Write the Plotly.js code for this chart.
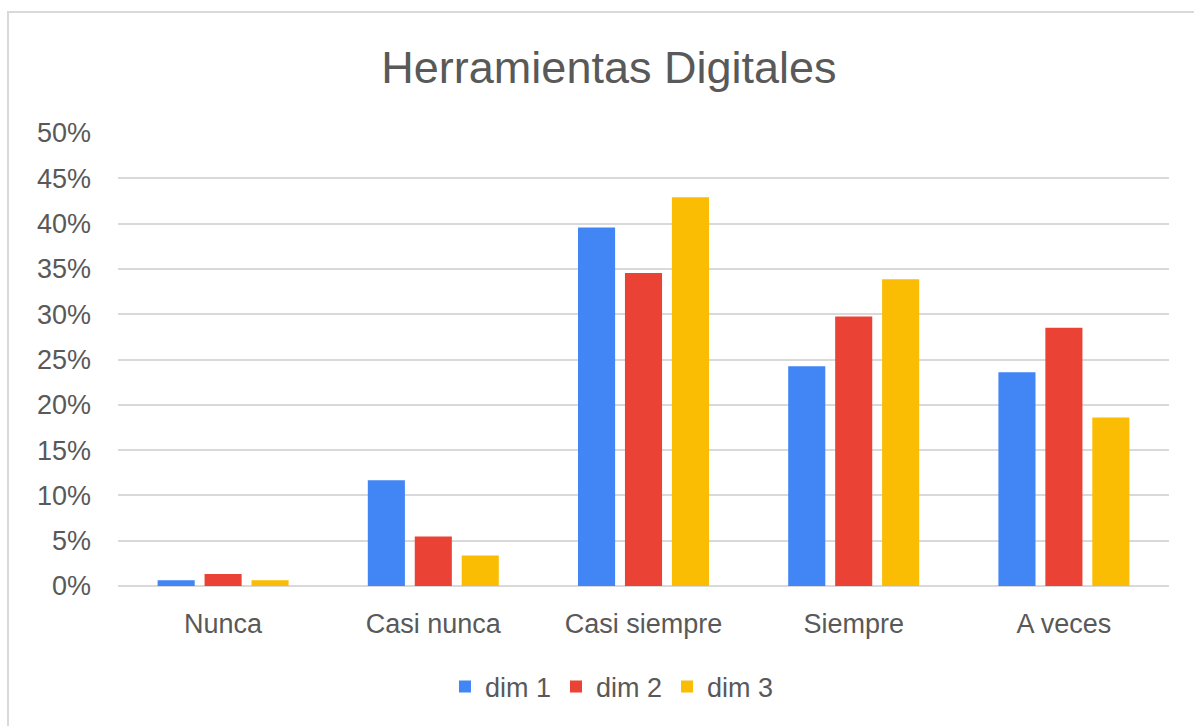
<!DOCTYPE html>
<html>
<head>
<meta charset="utf-8">
<script src="https://cdn.plot.ly/plotly-3.0.1.min.js"></script>
<style>
  html, body { margin: 0; padding: 0; width: 1194px; height: 726px; overflow: hidden; background: #ffffff; }
  #frame { position: absolute; left: 7px; top: 11px; width: 1300px; height: 800px; border: 2px solid #d9d9d9; box-sizing: border-box; }
  #chart { position: absolute; left: 0; top: 0; width: 1194px; height: 726px; }
</style>
</head>
<body>
<div id="frame"></div>
<div id="chart"></div>
<script>
const categories = ["Nunca", "Casi nunca", "Casi siempre", "Siempre", "A veces"];
const dim1 = [0.0063, 0.1166, 0.3956, 0.2426, 0.2360];
const dim2 = [0.0132, 0.0547, 0.3456, 0.2974, 0.2850];
const dim3 = [0.0063, 0.0337, 0.4290, 0.3385, 0.1860];
const seriesNames = ["dim 1", "dim 2", "dim 3"];
const tickVals = [0, 0.05, 0.10, 0.15, 0.20, 0.25, 0.30, 0.35, 0.40, 0.45, 0.50];
const tickText = ["0%", "5%", "10%", "15%", "20%", "25%", "30%", "35%", "40%", "45%", "50%"];

const colors = ["#4285F4", "#EA4335", "#FBBC04"];
const seriesData = [dim1, dim2, dim3];
const textColor = "#595959";
const fontFam = "Liberation Sans, Arial, sans-serif";

const traces = seriesData.map((vals, i) => ({
  type: "bar",
  name: seriesNames[i],
  x: categories,
  y: vals,
  marker: { color: colors[i] },
  hoverinfo: "x+y+name"
}));

const layout = {
  width: 1194,
  height: 726,
  paper_bgcolor: "rgba(0,0,0,0)",
  plot_bgcolor: "rgba(0,0,0,0)",
  margin: { l: 118, r: 25, t: 133, b: 140 },
  barmode: "group",
  bargap: 0.33,
  bargroupgap: 0.21,
  font: { family: fontFam, color: textColor },
  title: {
    text: "Herramientas Digitales",
    font: { size: 45, color: textColor, family: fontFam },
    x: 0.51, xref: "container", xanchor: "center",
    y: 0.908, yref: "container", yanchor: "middle"
  },
  xaxis: {
    type: "category",
    showgrid: false,
    showline: false,
    zeroline: false,
    ticks: "",
    ticklabelstandoff: 19,
    tickfont: { size: 27, color: textColor, family: fontFam }
  },
  yaxis: {
    range: [0, 0.5],
    tickvals: tickVals,
    ticktext: tickText,
    showgrid: true,
    gridcolor: "#d9d9d9",
    gridwidth: 2,
    zeroline: true,
    zerolinecolor: "#d9d9d9",
    zerolinewidth: 2,
    showline: false,
    ticks: "",
    ticklabelstandoff: 26,
    tickfont: { size: 27, color: textColor, family: fontFam }
  },
  showlegend: true,
  legend: {
    orientation: "h",
    x: 0.47, xanchor: "center",
    y: -0.223, yanchor: "middle",
    font: { size: 27, color: textColor, family: fontFam },
    itemwidth: 30,
    traceorder: "normal"
  }
};

Plotly.newPlot("chart", traces, layout, { displayModeBar: false, staticPlot: true });
</script>
</body>
</html>
